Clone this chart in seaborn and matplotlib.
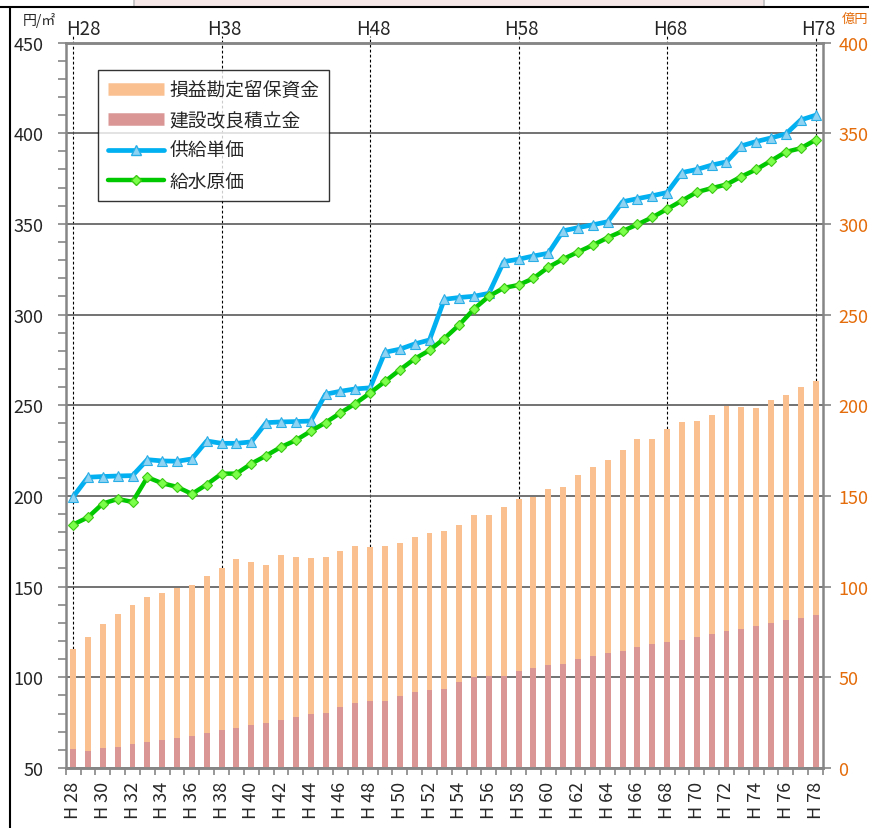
import numpy as np
import pandas as pd
import seaborn as sns
import matplotlib
matplotlib.use("Agg")
import matplotlib.pyplot as plt
from matplotlib.lines import Line2D
from matplotlib.patches import Rectangle
from matplotlib.ticker import MultipleLocator, FixedLocator
from matplotlib.transforms import blended_transform_factory

# 年度 H28 - H78
years = list(range(28, 79))

# 供給単価 (円/㎡)
supply_price = [199.5, 210.3, 210.7, 211.0, 211.2, 220.0, 219.3, 219.1, 220.4, 230.3,
                229.0, 229.0, 229.8, 240.4, 240.8, 241.0, 241.3, 256.1, 257.7, 259.0,
                259.6, 279.2, 280.9, 283.8, 286.0, 308.4, 309.4, 310.1, 311.7, 329.2,
                330.5, 332.3, 333.8, 346.2, 347.9, 349.5, 351.2, 362.2, 363.9, 365.5,
                367.3, 378.3, 380.0, 382.4, 384.2, 393.0, 395.4, 397.4, 399.6, 407.3,
                409.9]

# 給水原価 (円/㎡)
supply_cost = [184.2, 188.2, 195.8, 198.3, 196.7, 210.3, 207.0, 205.0, 201.1, 206.3,
               212.3, 212.3, 217.8, 222.2, 227.0, 230.7, 235.7, 240.4, 245.8, 250.9,
               256.8, 263.1, 269.5, 275.6, 280.3, 286.8, 294.3, 303.1, 310.1, 314.7,
               316.3, 320.0, 326.1, 330.6, 334.5, 338.3, 342.4, 346.0, 349.7, 353.6,
               358.2, 362.8, 367.5, 369.7, 371.7, 376.1, 380.0, 384.8, 389.7, 391.7,
               396.3]

# 建設改良積立金 (億円)
construction_fund = [10.7, 9.4, 10.8, 11.8, 13.2, 14.3, 15.4, 16.5, 17.6, 19.3,
                     21.0, 22.1, 23.5, 24.6, 26.7, 28.1, 29.8, 30.5, 33.6, 36.0,
                     36.9, 36.9, 39.7, 41.9, 43.2, 43.7, 47.5, 50.0, 50.6, 50.6,
                     53.2, 55.0, 56.9, 57.4, 60.0, 61.8, 63.3, 64.4, 66.6, 68.1,
                     69.4, 70.5, 72.1, 73.6, 75.4, 76.5, 78.2, 79.9, 81.5, 82.6,
                     84.5]

# 損益勘定留保資金 (億円)
retained_fund = [54.7, 62.8, 68.4, 73.3, 76.9, 80.0, 80.9, 82.6, 83.5, 86.4,
                 89.1, 93.0, 90.3, 87.5, 90.6, 88.4, 86.2, 85.7, 85.9, 86.4,
                 84.8, 85.3, 84.4, 85.5, 86.6, 86.8, 86.7, 89.6, 89.0, 93.3,
                 95.3, 94.6, 97.1, 97.7, 101.7, 104.3, 106.7, 110.9, 114.8, 113.5,
                 117.4, 120.5, 119.1, 121.1, 124.0, 122.4, 120.1, 123.0, 124.4, 127.2,
                 128.7]

marked_years = [28, 38, 48, 58, 68, 78]

df = pd.DataFrame({
    "pos": np.arange(len(years)),
    "year": [f"H{y}" for y in years],
    "price": supply_price,
    "cost": supply_cost,
    "construction": construction_fund,
    "total": np.array(construction_fund) + np.array(retained_fund),
})

sns.set_style("white")
plt.rcParams["font.family"] = ["Noto Sans CJK JP", "DejaVu Sans"]

ORANGE = "#FAC090"
ROSE = "#D99694"
BLUE = "#00B0F0"
GREEN = "#00C800"
AXIS_ORANGE = "#E46C0A"
SPINE = "#868686"
GRID = "#5A5A5A"

fig = plt.figure(figsize=(8.7, 8.29), dpi=100)
ax = fig.add_axes([0.0755, 0.0724, 0.8705, 0.8751])
ax2 = ax.twinx()
ax.set_zorder(2)
ax2.set_zorder(1)
ax.patch.set_visible(False)

# bars (right axis, 億円)
sns.barplot(data=df, x="year", y="total", color=ORANGE, saturation=1,
            width=0.4, ax=ax2, linewidth=0)
sns.barplot(data=df, x="year", y="construction", color=ROSE, saturation=1,
            width=0.4, ax=ax2, linewidth=0)

# lines (left axis, 円/㎡)
sns.lineplot(data=df, x="pos", y="price", ax=ax, color=BLUE, lw=3.4,
             marker="^", markersize=7, markerfacecolor="#8ED3F2",
             markeredgecolor="#2AAEE6", markeredgewidth=0.8)
sns.lineplot(data=df, x="pos", y="cost", ax=ax, color=GREEN, lw=3.2,
             marker="D", markersize=5.5, markerfacecolor="#7CFF4A",
             markeredgecolor="#3CC814", markeredgewidth=0.8)

ax.set_ylim(50, 450)
ax2.set_ylim(0, 400)
ax.set_xlim(-0.5, len(years) - 0.5)
ax.set_xlabel("")
ax.set_ylabel("")
ax2.set_xlabel("")
ax2.set_ylabel("")

# grid
ax2.set_axisbelow(True)
ax2.yaxis.set_major_locator(MultipleLocator(50))
ax2.grid(axis="y", color=GRID, lw=1.2)
ax2.grid(axis="x", visible=False)

# left axis
ax.yaxis.set_major_locator(MultipleLocator(50))
ax.yaxis.set_minor_locator(MultipleLocator(10))
ax.tick_params(axis="y", which="both", left=True, length=6, width=1.2,
               color=SPINE, labelsize=13, pad=10)
ax2.tick_params(axis="y", which="major", right=True, length=6, width=1.2,
                color=SPINE, labelsize=13, labelcolor=AXIS_ORANGE, pad=5)

# x axis
ax.xaxis.set_major_locator(FixedLocator(np.arange(0, len(years), 2)))
ax.set_xticklabels([f"H {y}" for y in years[::2]], rotation=90)
ax.xaxis.set_minor_locator(FixedLocator(np.arange(-0.5, len(years), 1)))
ax.tick_params(axis="x", which="major", length=0, labelsize=13, pad=9)
ax.tick_params(axis="x", which="minor", bottom=True, length=5, width=1.2, color=SPINE)

for a in (ax, ax2):
    for s in a.spines.values():
        s.set_color(SPINE)
        s.set_linewidth(1.8)
ax2.spines["left"].set_visible(False)
ax.spines["right"].set_visible(False)

# drop lines and year marks above the plot
trans = blended_transform_factory(ax2.transData, ax2.transAxes)
for y in marked_years:
    k = years.index(y)
    ax2.plot([k, k], [df["total"][k], 403.5], color="black", lw=0.8,
             ls=(0, (2.5, 2)), clip_on=False, zorder=0.5)
    if y == marked_years[0]:
        ax2.text(k - 0.5, 1.019, f"H{y}", transform=trans, ha="left",
                 va="center", fontsize=13.5)
    else:
        ax2.text(k + 0.2, 1.019, f"H{y}", transform=trans, ha="center",
                 va="center", fontsize=13.5)

fig.text(39 / 870, 1 - 20 / 829, "円/㎡", fontsize=10, ha="center", va="center")
fig.text(842 / 870, 1 - 19 / 829, "億円", fontsize=9.5, ha="left", va="center",
         color=AXIS_ORANGE)

# legend
handles = [
    Line2D([], [], color=ORANGE, lw=9, solid_capstyle="butt"),
    Line2D([], [], color=ROSE, lw=9, solid_capstyle="butt"),
    Line2D([], [], color=BLUE, lw=3.4, marker="^", markersize=7,
           markerfacecolor="#8ED3F2", markeredgecolor="#2AAEE6"),
    Line2D([], [], color=GREEN, lw=3.2, marker="D", markersize=5.5,
           markerfacecolor="#7CFF4A", markeredgecolor="#3CC814"),
]
labels = ["損益勘定留保資金", "建設改良積立金", "供給単価", "給水原価"]
leg = ax.legend(handles, labels, loc="upper left", bbox_to_anchor=(0.043, 0.962),
                borderaxespad=0, fontsize=13.5, frameon=True, fancybox=False,
                handlelength=3.0, handletextpad=0.3, labelspacing=0.5,
                borderpad=0.5)
leg.get_frame().set_edgecolor("black")
leg.get_frame().set_linewidth(1.0)

# outer chart border and box fragment at the top
fig.add_artist(Line2D([0, 1], [1 - 8 / 829, 1 - 8 / 829], color="black", lw=1.5,
                      transform=fig.transFigure))
fig.add_artist(Line2D([10 / 870, 10 / 870], [0, 1 - 8 / 829], color="black", lw=1.5,
                      transform=fig.transFigure))
fig.add_artist(Rectangle((134 / 870, 1 - 8 / 829), 630 / 870, 10 / 829,
                         facecolor="#F5E7E7", edgecolor="#BDBDBD", lw=1.2,
                         transform=fig.transFigure))

fig.savefig("out.png", dpi=100)
